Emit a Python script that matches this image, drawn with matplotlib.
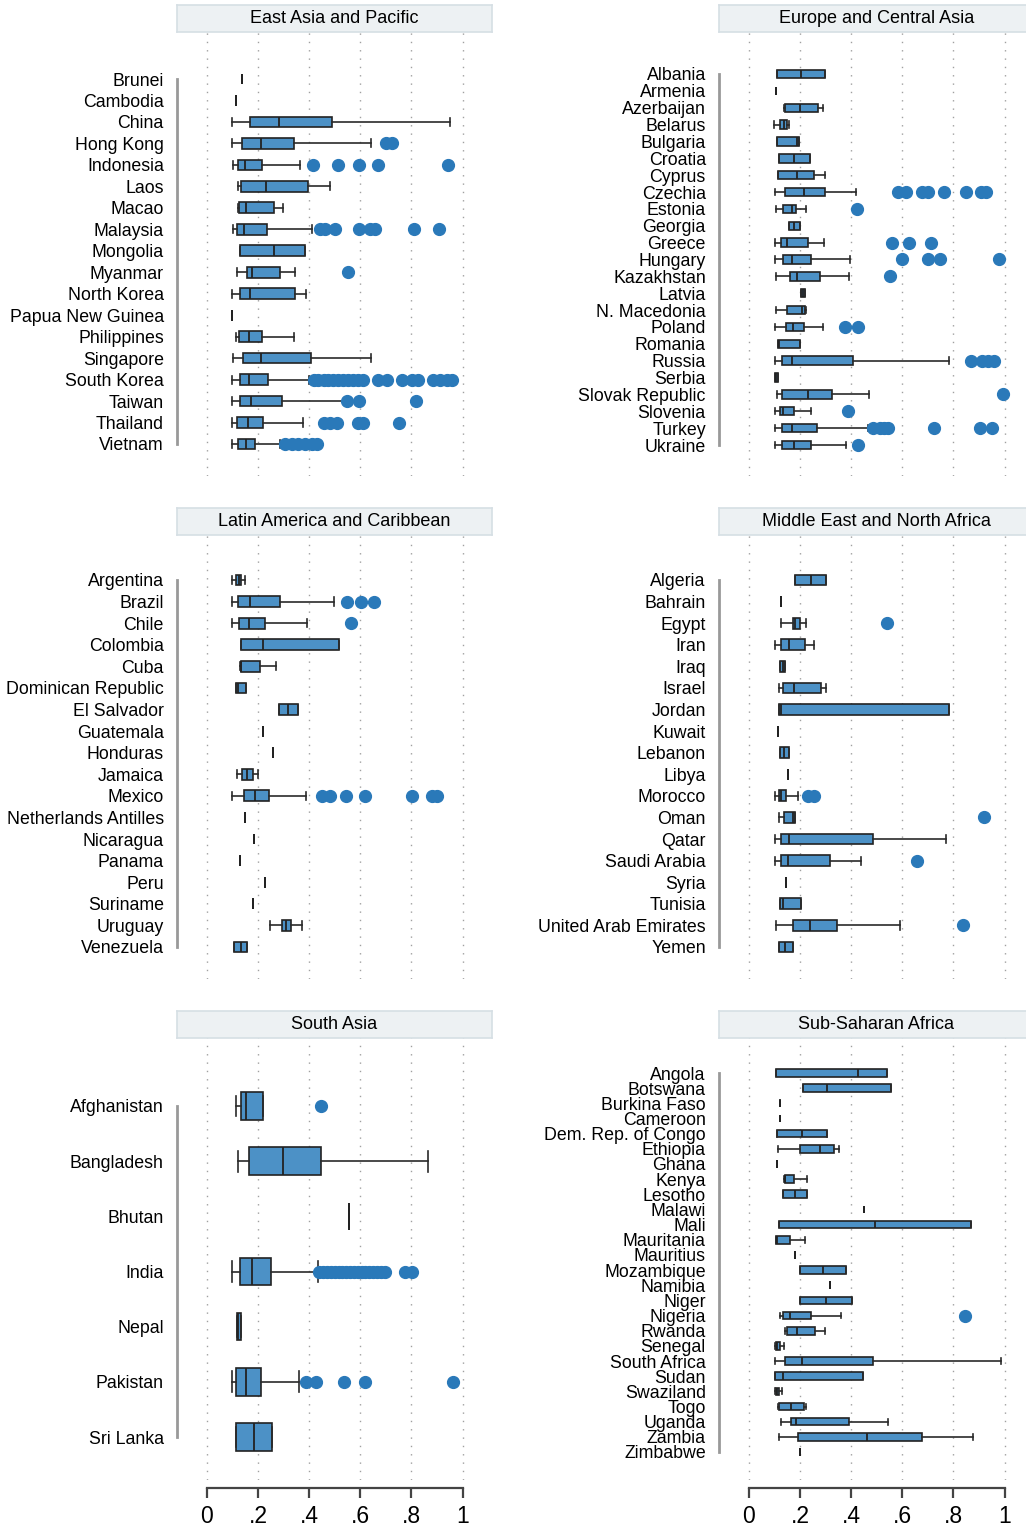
import matplotlib
matplotlib.use("Agg")
import matplotlib.pyplot as plt

plt.rcParams['font.family'] = ['Liberation Sans', 'DejaVu Sans']

# ---- data: (whisker low, q1, median, q3, whisker high) per country ----
EAP_COUNTRIES = ["Brunei", "Cambodia", "China", "Hong Kong", "Indonesia", "Laos", "Macao",
                 "Malaysia", "Mongolia", "Myanmar", "North Korea", "Papua New Guinea",
                 "Philippines", "Singapore", "South Korea", "Taiwan", "Thailand", "Vietnam"]
EAP_STATS = [(0.138, 0.138, 0.138, 0.138, 0.138), (0.115, 0.115, 0.115, 0.115, 0.115),
             (0.099, 0.167, 0.280, 0.488, 0.949), (0.100, 0.139, 0.211, 0.341, 0.643),
             (0.103, 0.122, 0.150, 0.217, 0.365), (0.120, 0.132, 0.230, 0.397, 0.480),
             (0.122, 0.125, 0.154, 0.262, 0.298), (0.102, 0.116, 0.145, 0.236, 0.411),
             (0.129, 0.129, 0.263, 0.382, 0.382), (0.116, 0.156, 0.177, 0.286, 0.346),
             (0.100, 0.128, 0.167, 0.344, 0.388), (0.100, 0.100, 0.100, 0.100, 0.100),
             (0.113, 0.124, 0.164, 0.214, 0.341), (0.102, 0.142, 0.210, 0.406, 0.641),
             (0.100, 0.129, 0.165, 0.237, 0.400), (0.100, 0.128, 0.174, 0.293, 0.549),
             (0.100, 0.118, 0.159, 0.221, 0.375), (0.100, 0.121, 0.152, 0.190, 0.284)]
EAP_FLIERS = [[], [], [], [0.700, 0.723], [0.413, 0.514, 0.595, 0.668, 0.944], [], [],
              [0.443, 0.462, 0.499, 0.595, 0.638, 0.658, 0.809, 0.909], [], [0.553], [], [],
              [], [],
              [0.417, 0.436, 0.456, 0.475, 0.495, 0.514, 0.534, 0.553, 0.573, 0.592, 0.612,
               0.671, 0.703, 0.762, 0.801, 0.827, 0.885, 0.911, 0.938, 0.957],
              [0.549, 0.594, 0.819], [0.456, 0.482, 0.508, 0.589, 0.612, 0.750],
              [0.306, 0.332, 0.358, 0.384, 0.410, 0.432]]

ECA_COUNTRIES = ["Albania", "Armenia", "Azerbaijan", "Belarus", "Bulgaria", "Croatia", "Cyprus",
                 "Czechia", "Estonia", "Georgia", "Greece", "Hungary", "Kazakhstan", "Latvia",
                 "N. Macedonia", "Poland", "Romania", "Russia", "Serbia", "Slovak Republic",
                 "Slovenia", "Turkey", "Ukraine"]
ECA_STATS = [(0.110, 0.110, 0.205, 0.297, 0.297), (0.107, 0.107, 0.107, 0.107, 0.107),
             (0.137, 0.141, 0.199, 0.270, 0.289), (0.100, 0.123, 0.136, 0.147, 0.156),
             (0.110, 0.110, 0.189, 0.196, 0.196), (0.116, 0.116, 0.176, 0.240, 0.240),
             (0.112, 0.115, 0.189, 0.256, 0.299), (0.102, 0.143, 0.214, 0.297, 0.417),
             (0.104, 0.134, 0.168, 0.184, 0.224), (0.156, 0.156, 0.176, 0.199, 0.199),
             (0.102, 0.125, 0.149, 0.231, 0.293), (0.102, 0.134, 0.167, 0.243, 0.395),
             (0.106, 0.159, 0.190, 0.279, 0.391), (0.203, 0.203, 0.211, 0.220, 0.220),
             (0.106, 0.149, 0.209, 0.220, 0.223), (0.102, 0.145, 0.173, 0.216, 0.289),
             (0.115, 0.115, 0.118, 0.199, 0.199), (0.102, 0.129, 0.168, 0.409, 0.784),
             (0.103, 0.103, 0.106, 0.113, 0.113), (0.108, 0.129, 0.233, 0.323, 0.468),
             (0.103, 0.123, 0.133, 0.176, 0.241), (0.102, 0.129, 0.167, 0.266, 0.465),
             (0.103, 0.129, 0.176, 0.243, 0.378)]
ECA_FLIERS = [[], [], [], [], [], [], [],
              [0.583, 0.615, 0.678, 0.701, 0.763, 0.850, 0.909, 0.928], [0.421], [],
              [0.561, 0.626, 0.713], [0.600, 0.701, 0.746, 0.980], [0.550], [], [],
              [0.374, 0.428], [], [0.867, 0.913, 0.935, 0.957], [], [0.993], [0.387],
              [0.485, 0.511, 0.527, 0.545, 0.725, 0.904, 0.952], [0.428]]

LAC_COUNTRIES = ["Argentina", "Brazil", "Chile", "Colombia", "Cuba", "Dominican Republic",
                 "El Salvador", "Guatemala", "Honduras", "Jamaica", "Mexico",
                 "Netherlands Antilles", "Nicaragua", "Panama", "Peru", "Suriname",
                 "Uruguay", "Venezuela"]
LAC_STATS = [(0.100, 0.113, 0.124, 0.134, 0.150), (0.100, 0.122, 0.168, 0.284, 0.497),
             (0.100, 0.126, 0.165, 0.229, 0.391), (0.135, 0.135, 0.221, 0.518, 0.518),
             (0.130, 0.132, 0.133, 0.208, 0.272), (0.115, 0.115, 0.120, 0.152, 0.152),
             (0.280, 0.280, 0.316, 0.357, 0.357), (0.221, 0.221, 0.221, 0.221, 0.221),
             (0.257, 0.257, 0.257, 0.257, 0.257), (0.116, 0.137, 0.158, 0.182, 0.199),
             (0.099, 0.145, 0.189, 0.242, 0.388), (0.150, 0.150, 0.150, 0.150, 0.150),
             (0.184, 0.184, 0.184, 0.184, 0.184), (0.128, 0.128, 0.128, 0.128, 0.128),
             (0.227, 0.227, 0.227, 0.227, 0.227), (0.182, 0.182, 0.182, 0.182, 0.182),
             (0.245, 0.293, 0.309, 0.329, 0.371), (0.105, 0.105, 0.133, 0.158, 0.158)]
LAC_FLIERS = [[], [0.548, 0.603, 0.654], [0.563], [], [], [], [], [], [], [],
              [0.449, 0.482, 0.544, 0.618, 0.801, 0.879, 0.898], [], [], [], [], [], [], []]

MENA_COUNTRIES = ["Algeria", "Bahrain", "Egypt", "Iran", "Iraq", "Israel", "Jordan", "Kuwait",
                  "Lebanon", "Libya", "Morocco", "Oman", "Qatar", "Saudi Arabia", "Syria",
                  "Tunisia", "United Arab Emirates", "Yemen"]
MENA_STATS = [(0.181, 0.181, 0.244, 0.302, 0.302), (0.125, 0.125, 0.125, 0.125, 0.125),
              (0.125, 0.172, 0.181, 0.198, 0.224), (0.102, 0.125, 0.156, 0.220, 0.256),
              (0.121, 0.121, 0.132, 0.141, 0.141), (0.117, 0.133, 0.177, 0.282, 0.301),
              (0.117, 0.117, 0.126, 0.781, 0.781), (0.113, 0.113, 0.113, 0.113, 0.113),
              (0.121, 0.121, 0.138, 0.158, 0.158), (0.151, 0.151, 0.151, 0.151, 0.151),
              (0.102, 0.117, 0.126, 0.146, 0.192), (0.116, 0.136, 0.171, 0.181, 0.181),
              (0.102, 0.126, 0.155, 0.484, 0.769), (0.103, 0.126, 0.154, 0.316, 0.439),
              (0.145, 0.145, 0.145, 0.145, 0.145), (0.123, 0.123, 0.132, 0.203, 0.203),
              (0.106, 0.173, 0.237, 0.343, 0.589), (0.117, 0.117, 0.143, 0.171, 0.171)]
MENA_FLIERS = [[], [], [0.541], [], [], [], [], [], [], [], [0.231, 0.253], [0.919], [],
               [0.656], [], [], [0.838], []]

SAS_COUNTRIES = ["Afghanistan", "Bangladesh", "Bhutan", "India", "Nepal", "Pakistan", "Sri Lanka"]
SAS_STATS = [(0.113, 0.132, 0.154, 0.221, 0.221), (0.122, 0.163, 0.297, 0.445, 0.865),
             (0.557, 0.557, 0.557, 0.557, 0.557), (0.099, 0.130, 0.176, 0.250, 0.436),
             (0.116, 0.116, 0.122, 0.133, 0.133), (0.099, 0.115, 0.152, 0.210, 0.359),
             (0.112, 0.112, 0.184, 0.253, 0.253)]
SAS_FLIERS = [[0.447], [], [],
              [0.440, 0.455, 0.470, 0.485, 0.500, 0.515, 0.530, 0.545, 0.560, 0.575, 0.590,
               0.605, 0.620, 0.635, 0.650, 0.665, 0.680, 0.695, 0.775, 0.801],
              [], [0.387, 0.427, 0.535, 0.620, 0.961], []]

SSA_COUNTRIES = ["Angola", "Botswana", "Burkina Faso", "Cameroon", "Dem. Rep. of Congo",
                 "Ethiopia", "Ghana", "Kenya", "Lesotho", "Malawi", "Mali", "Mauritania",
                 "Mauritius", "Mozambique", "Namibia", "Niger", "Nigeria", "Rwanda", "Senegal",
                 "South Africa", "Sudan", "Swaziland", "Togo", "Uganda", "Zambia", "Zimbabwe"]
SSA_STATS = [(0.104, 0.104, 0.428, 0.540, 0.540), (0.211, 0.211, 0.306, 0.555, 0.555),
             (0.121, 0.121, 0.121, 0.121, 0.121), (0.121, 0.121, 0.121, 0.121, 0.121),
             (0.108, 0.108, 0.209, 0.306, 0.306), (0.115, 0.201, 0.279, 0.334, 0.353),
             (0.108, 0.108, 0.108, 0.108, 0.108), (0.137, 0.140, 0.142, 0.176, 0.229),
             (0.132, 0.132, 0.180, 0.228, 0.228), (0.451, 0.451, 0.451, 0.451, 0.451),
             (0.117, 0.117, 0.493, 0.868, 0.868), (0.104, 0.107, 0.110, 0.160, 0.218),
             (0.180, 0.180, 0.180, 0.180, 0.180), (0.201, 0.201, 0.289, 0.378, 0.378),
             (0.316, 0.316, 0.316, 0.316, 0.316), (0.198, 0.198, 0.302, 0.404, 0.404),
             (0.120, 0.133, 0.159, 0.244, 0.360), (0.140, 0.149, 0.189, 0.259, 0.299),
             (0.102, 0.104, 0.110, 0.120, 0.136), (0.103, 0.141, 0.209, 0.485, 0.987),
             (0.103, 0.103, 0.132, 0.446, 0.446), (0.102, 0.104, 0.108, 0.117, 0.128),
             (0.114, 0.117, 0.164, 0.215, 0.224), (0.125, 0.166, 0.185, 0.391, 0.545),
             (0.119, 0.193, 0.463, 0.678, 0.876), (0.198, 0.198, 0.198, 0.198, 0.198)]
SSA_FLIERS = [[]] * 16 + [[0.845]] + [[]] * 9

PANELS = [
    ("East Asia and Pacific", EAP_COUNTRIES, EAP_STATS, EAP_FLIERS),
    ("Europe and Central Asia", ECA_COUNTRIES, ECA_STATS, ECA_FLIERS),
    ("Latin America and Caribbean", LAC_COUNTRIES, LAC_STATS, LAC_FLIERS),
    ("Middle East and North Africa", MENA_COUNTRIES, MENA_STATS, MENA_FLIERS),
    ("South Asia", SAS_COUNTRIES, SAS_STATS, SAS_FLIERS),
    ("Sub-Saharan Africa", SSA_COUNTRIES, SSA_STATS, SSA_FLIERS),
]

# ---- layout (pixels) ----
W, H = 1026, 1528
COL_X = [177, 719]
AX_W = 315
ROW_TOP = [32, 535, 1038]          # bottom edge of strip = top of plot region
ROW_BOT = [476, 979, 1480]
STRIP_H = 27
# pixel centre of first / last category in each panel
FIRST_LAST = [(79, 444), (74, 445), (580, 947), (580, 947), (1106, 1437), (1073, 1452)]

BOX_FILL = '#4c91c6'
DOT = '#2a79b9'
EDGE = '#222222'

fig = plt.figure(figsize=(W / 100, H / 100), dpi=100)

for i, (title, names, stats, fliers) in enumerate(PANELS):
    row, col = divmod(i, 2)
    x0, top, bot = COL_X[col], ROW_TOP[row], ROW_BOT[row]
    ax = fig.add_axes([x0 / W, 1 - bot / H, AX_W / W, (bot - top) / H])

    n = len(names)
    p0, p1 = FIRST_LAST[i]
    s = (p1 - p0) / (n - 1)
    ax.set_ylim(n - 1 + (bot - p1) / s, -(p0 - top) / s)
    ax.set_xlim(-0.117, 1.115)

    bstats = []
    for name, st, fl in zip(names, stats, fliers):
        lo, q1, med, q3, hi = st
        bstats.append(dict(label=name, whislo=lo, q1=q1, med=med, q3=q3, whishi=hi, fliers=fl))

    ax.bxp(bstats, positions=list(range(n)), orientation='horizontal', widths=0.5,
           capwidths=0.38, patch_artist=True, showfliers=True,
           boxprops=dict(facecolor=BOX_FILL, edgecolor=EDGE, linewidth=1.2),
           medianprops=dict(color=EDGE, linewidth=1.3),
           whiskerprops=dict(color='#2a2a2a', linewidth=1.2),
           capprops=dict(color='#2a2a2a', linewidth=1.2),
           flierprops=dict(marker='o', markerfacecolor=DOT, markeredgecolor=DOT,
                           markersize=8.5, linestyle='none'))

    ax.set_yticks(range(n))
    ax.set_yticklabels(names, fontsize=12.8)
    ax.tick_params(axis='y', length=0, pad=9.5)

    ax.set_xticks([0, 0.2, 0.4, 0.6, 0.8, 1.0])
    ax.grid(axis='x', color='#a0a0a0', linestyle=(0, (1, 5)), linewidth=1.0)
    ax.set_axisbelow(True)

    for side in ('top', 'right'):
        ax.spines[side].set_visible(False)
    ax.spines['left'].set_bounds(0, n - 1)
    ax.spines['left'].set_color('#999999')
    ax.spines['left'].set_linewidth(2.0)

    if row == 2:
        ax.spines['bottom'].set_bounds(0, 1)
        ax.spines['bottom'].set_position(('outward', 6))
        ax.spines['bottom'].set_color('#444444')
        ax.spines['bottom'].set_linewidth(1.6)
        ax.set_xticklabels(['0', '.2', '.4', '.6', '.8', '1'], fontsize=16.5)
        ax.tick_params(axis='x', length=7, width=1.6, color='#444444', pad=5)
    else:
        ax.spines['bottom'].set_visible(False)
        ax.tick_params(axis='x', bottom=False, labelbottom=False)

    # panel title strip
    sax = fig.add_axes([x0 / W, 1 - top / H, AX_W / W, STRIP_H / H])
    sax.set_facecolor('#edf1f3')
    for sp in sax.spines.values():
        sp.set_color('#d6dfe4')
        sp.set_linewidth(1.2)
    sax.set_xticks([])
    sax.set_yticks([])
    sax.text(0.5, 0.5, title, ha='center', va='center', fontsize=13, transform=sax.transAxes)

fig.savefig('out.png', dpi=100)
